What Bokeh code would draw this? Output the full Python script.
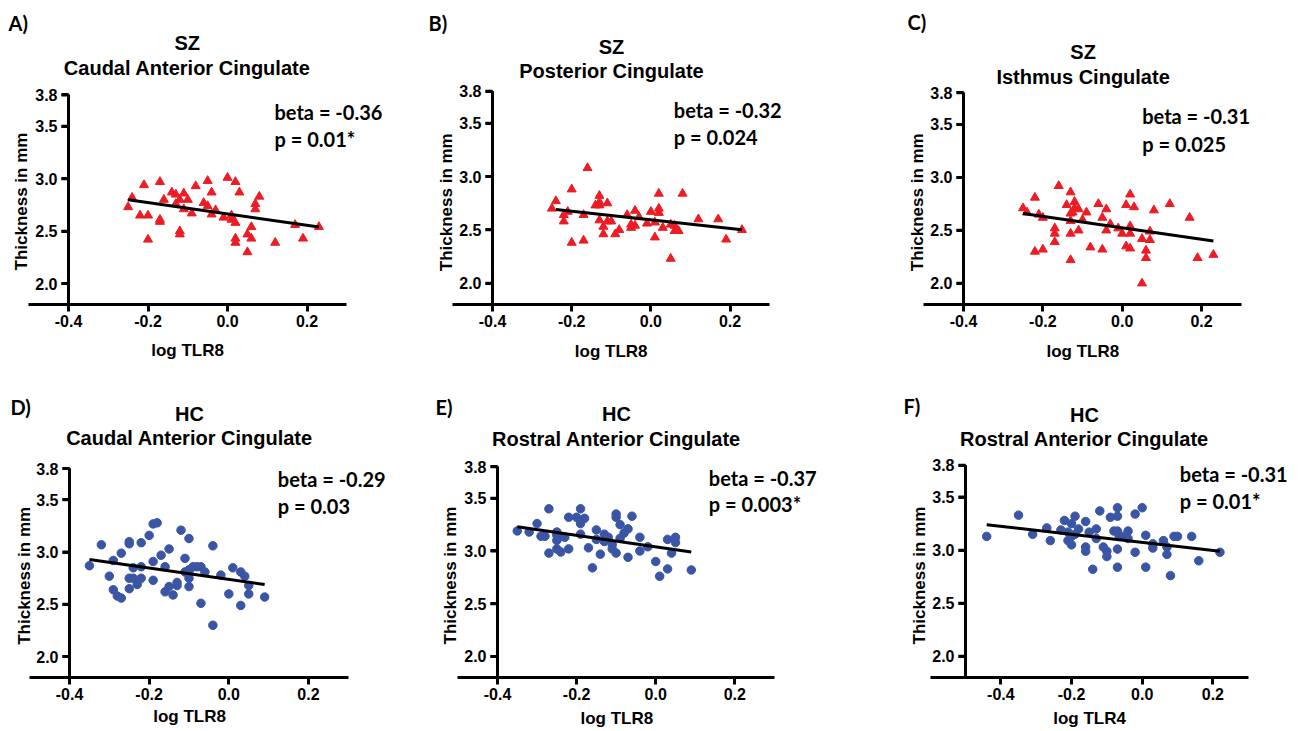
import math
from bokeh.plotting import figure
from bokeh.models import Range1d, FixedTicker, PrintfTickFormatter, Label, Title
from bokeh.layouts import row, column
from bokeh.embed import file_html
from bokeh.resources import INLINE

# ---------------- data ----------------
x_ticks = [-0.4, -0.2, 0.0, 0.2]
y_ticks = [2.0, 2.5, 3.0, 3.5, 3.8]

# A) SZ Caudal Anterior Cingulate (log TLR8)
a_x = [-0.25, -0.24, -0.21, -0.22, -0.20, -0.20, -0.17, -0.17, -0.17, -0.16,
       -0.14, -0.13, -0.13, -0.12, -0.12, -0.12, -0.11, -0.11, -0.10, -0.09,
       -0.08, -0.06, -0.05, -0.05, -0.04, -0.04, -0.03, -0.01, 0.00, 0.01,
       0.01, 0.02, 0.02, 0.02, 0.02, 0.03, 0.05, 0.05, 0.06, 0.06,
       0.07, 0.07, 0.08, 0.12, 0.17, 0.19, 0.23]
a_y = [2.73, 2.82, 2.94, 2.65, 2.65, 2.42, 2.97, 2.61, 2.59, 2.80,
       2.87, 2.85, 2.76, 2.80, 2.50, 2.47, 2.86, 2.71, 2.80, 2.67,
       2.93, 2.77, 2.98, 2.74, 2.87, 2.66, 2.70, 2.63, 3.01, 2.65,
       2.61, 2.97, 2.58, 2.43, 2.39, 2.87, 2.47, 2.30, 2.54, 2.43,
       2.71, 2.76, 2.83, 2.39, 2.56, 2.43, 2.54]
a_fit_x = [-0.25, 0.23]
a_fit_y = [2.80, 2.54]

# B) SZ Posterior Cingulate (log TLR8)
b_x = [-0.25, -0.24, -0.22, -0.22, -0.21, -0.20, -0.20, -0.17, -0.17, -0.16,
       -0.14, -0.13, -0.13, -0.13, -0.13, -0.12, -0.12, -0.11, -0.11, -0.10,
       -0.09, -0.08, -0.06, -0.05, -0.05, -0.04, -0.04, -0.03, -0.01, 0.00,
       0.01, 0.01, 0.02, 0.02, 0.02, 0.03, 0.05, 0.05, 0.06, 0.06,
       0.07, 0.08, 0.12, 0.17, 0.19, 0.23]
b_y = [2.70, 2.77, 2.64, 2.58, 2.67, 2.88, 2.38, 2.64, 2.40, 3.08,
       2.73, 2.82, 2.73, 2.76, 2.59, 2.53, 2.46, 2.75, 2.58, 2.58,
       2.46, 2.50, 2.64, 2.55, 2.52, 2.68, 2.54, 2.62, 2.56, 2.67,
       2.57, 2.43, 2.84, 2.70, 2.66, 2.52, 2.55, 2.23, 2.54, 2.49,
       2.49, 2.84, 2.60, 2.60, 2.41, 2.50]
b_fit_x = [-0.24, 0.23]
b_fit_y = [2.69, 2.50]

# C) SZ Isthmus Cingulate (log TLR8)
c_x = [-0.25, -0.24, -0.22, -0.21, -0.20, -0.22, -0.20, -0.17, -0.17, -0.17,
       -0.16, -0.14, -0.13, -0.13, -0.13, -0.13, -0.13, -0.12, -0.12, -0.11,
       -0.125, -0.11, -0.10, -0.09, -0.08, -0.06, -0.05, -0.05, -0.04, -0.04,
       -0.03, -0.01, 0.00, 0.01, 0.01, 0.02, 0.02, 0.02, 0.02, 0.03,
       0.05, 0.05, 0.06, 0.06, 0.07, 0.07, 0.08, 0.12, 0.17, 0.19,
       0.23]
c_y = [2.71, 2.67, 2.81, 2.65, 2.62, 2.30, 2.32, 2.52, 2.47, 2.39,
       2.92, 2.74, 2.86, 2.66, 2.59, 2.47, 2.22, 2.77, 2.71, 2.70,
       2.67, 2.50, 2.60, 2.67, 2.34, 2.75, 2.62, 2.32, 2.70, 2.50,
       2.56, 2.52, 2.47, 2.74, 2.35, 2.84, 2.54, 2.47, 2.33, 2.72,
       2.42, 2.00, 2.31, 2.24, 2.49, 2.41, 2.69, 2.75, 2.62, 2.24,
       2.27]
c_fit_x = [-0.25, 0.23]
c_fit_y = [2.66, 2.40]

# D) HC Caudal Anterior Cingulate (log TLR8)
d_x = [-0.35, -0.32, -0.30, -0.29, -0.29, -0.28, -0.27, -0.27, -0.25, -0.25,
       -0.25, -0.25, -0.24, -0.24, -0.23, -0.22, -0.22, -0.22, -0.20, -0.19,
       -0.18, -0.19, -0.19, -0.17, -0.16, -0.15, -0.16, -0.15, -0.14, -0.13,
       -0.13, -0.12, -0.11, -0.10, -0.10, -0.10, -0.10, -0.10, -0.11, -0.09,
       -0.08, -0.07, -0.06, -0.07, -0.04, -0.04, -0.02, 0.00, 0.01, 0.03,
       0.04, 0.03, 0.05, 0.05, 0.09]
d_y = [2.87, 3.07, 2.77, 2.92, 2.64, 2.58, 2.56, 2.99, 3.10, 3.08,
       2.75, 2.65, 2.85, 2.75, 2.69, 3.09, 2.86, 2.75, 3.16, 3.27,
       3.28, 2.91, 2.73, 2.97, 2.86, 3.03, 2.62, 2.67, 2.59, 2.71,
       2.68, 3.21, 2.94, 3.13, 2.83, 2.80, 2.75, 2.67, 2.81, 2.86,
       2.86, 2.86, 2.81, 2.51, 3.06, 2.30, 2.78, 2.60, 2.85, 2.81,
       2.77, 2.49, 2.68, 2.60, 2.57]
d_fit_x = [-0.35, 0.09]
d_fit_y = [2.93, 2.69]

# E) HC Rostral Anterior Cingulate (log TLR8)
e_x = [-0.35, -0.32, -0.30, -0.29, -0.28, -0.27, -0.27, -0.25, -0.25, -0.25,
       -0.245, -0.25, -0.24, -0.23, -0.22, -0.22, -0.20, -0.19, -0.19, -0.18,
       -0.19, -0.17, -0.16, -0.15, -0.15, -0.14, -0.13, -0.13, -0.12, -0.11,
       -0.11, -0.10, -0.10, -0.10, -0.09, -0.09, -0.08, -0.07, -0.06, -0.07,
       -0.04, -0.04, -0.02, 0.00, 0.01, 0.03, 0.03, 0.04, 0.05, 0.05,
       0.09]
e_y = [3.19, 3.18, 3.26, 3.14, 3.14, 3.40, 2.98, 3.18, 3.15, 3.10,
       3.13, 3.02, 2.99, 3.13, 3.02, 3.32, 3.32, 3.40, 3.26, 3.31,
       3.16, 3.03, 2.84, 3.20, 3.11, 2.97, 3.16, 3.09, 3.13, 3.06,
       3.02, 3.35, 3.32, 2.98, 3.25, 3.12, 3.17, 3.21, 3.33, 2.94,
       3.13, 3.00, 3.04, 2.90, 2.76, 3.11, 2.83, 2.98, 3.13, 3.08,
       2.82]
e_fit_x = [-0.35, 0.09]
e_fit_y = [3.23, 2.99]

# F) HC Rostral Anterior Cingulate (log TLR4)
f_x = [-0.44, -0.35, -0.31, -0.27, -0.26, -0.23, -0.22, -0.21, -0.21, -0.20,
       -0.20, -0.19, -0.20, -0.19, -0.18, -0.16, -0.16, -0.16, -0.15, -0.14,
       -0.13, -0.13, -0.12, -0.11, -0.10, -0.10, -0.09, -0.07, -0.07, -0.08,
       -0.07, -0.065, -0.055, -0.07, -0.07, -0.04, -0.04, -0.02, -0.02, 0.00,
       0.01, 0.01, 0.03, 0.03, 0.06, 0.07, 0.07, 0.08, 0.09, 0.10,
       0.14, 0.16, 0.22]
f_y = [3.13, 3.33, 3.15, 3.21, 3.09, 3.19, 3.28, 3.17, 3.09, 3.25,
       3.13, 3.15, 3.05, 3.32, 3.20, 3.27, 3.03, 2.99, 3.17, 2.82,
       3.20, 3.11, 3.37, 3.03, 2.99, 2.94, 3.31, 3.40, 3.32, 3.18,
       3.18, 3.13, 3.13, 3.01, 2.84, 3.18, 3.11, 3.34, 2.98, 3.40,
       3.14, 2.84, 3.06, 3.02, 3.09, 3.03, 2.96, 2.76, 3.13, 3.13,
       3.13, 2.90, 2.98]
f_fit_x = [-0.44, 0.22]
f_fit_y = [3.24, 2.99]

letters = ["A)", "B)", "C)", "D)", "E)", "F)"]
groups = ["SZ", "SZ", "SZ", "HC", "HC", "HC"]
regions = ["Caudal Anterior Cingulate", "Posterior Cingulate", "Isthmus Cingulate",
           "Caudal Anterior Cingulate", "Rostral Anterior Cingulate", "Rostral Anterior Cingulate"]
betas = ["beta = -0.36", "beta = -0.32", "beta = -0.31", "beta = -0.29", "beta = -0.37", "beta = -0.31"]
pvals = ["p = 0.01*", "p = 0.024", "p = 0.025", "p = 0.03", "p = 0.003*", "p = 0.01*"]
xlabels = ["log TLR8", "log TLR8", "log TLR8", "log TLR8", "log TLR8", "log TLR4"]
ylabel = "Thickness in mm"
x_axis_end = 0.3
y_axis_start, y_axis_end = 1.8, 3.8

# ---------------- styles / layout (pixels) ----------------
RED = "#ED1C24"
BLUE = "#3B55A5"
SANS = "Liberation Sans"
CAL = "Lato"

ROW = [(0, 380), (380, 351)]              # (top, height) of each row
COL = [(0, 418), (418, 467), (885, 418)]  # (left, width) of each column

# x0: where the y axis stands; xa: where the x axis line starts (frame left)
# L: pixel of the y axis; R/T/B: frame edges; sx/sy: px per data unit
# text offsets in px from (x0, 3.8)
spec = [
    dict(r=0, c=0, x0=-0.4, xa=-0.5, L=68, R=395, T=24, B=308, sx=397.5, sy=106.3,
         let=(-60, -20), grp=(118.7, 52.1), reg=(118.7, 27.1), beta=(206, -16.9), pv=(206, -44.3),
         ylab=(34, 30.9), xlab=(82.7, 23.5, "top")),
    dict(r=0, c=1, x0=-0.4, xa=-0.5, L=492, R=815, T=24, B=304, sx=396.0, sy=106.65,
         let=(-64, -20), grp=(119, 44.4), reg=(119, 20), beta=(181.3, -19.1), pv=(181.3, -46),
         ylab=(33.3, 455.3), xlab=(82.3, 25.4, "top")),
    dict(r=0, c=2, x0=-0.4, xa=-0.5, L=963, R=1286, T=22, B=304, sx=396.7, sy=106.65,
         let=(-56, -19), grp=(119.6, 40.4), reg=(119.6, 16), beta=(178.7, -23.5), pv=(178.7, -51.5),
         ylab=(33.3, 926.3), xlab=(83, 25.4, "top")),
    dict(r=1, c=0, x0=-0.4, xa=-0.5, L=69, R=398, T=406, B=680, sx=398.3, sy=105.65,
         let=(-59, -24), grp=(120, 54.4), reg=(120, 30.4), beta=(208.3, -10.1), pv=(208.3, -37.8),
         ylab=(32.7, 33.6), xlab=(83.7, 5, "bottom")),
    dict(r=1, c=1, x0=-0.4, xa=-0.5, L=497, R=828, T=404, B=677, sx=395.5, sy=106.2,
         let=(-62, -24), grp=(119, 52.3), reg=(119, 27.9), beta=(211.3, -10.9), pv=(211.3, -37.6),
         ylab=(33, 459.6), xlab=(83, 8, "bottom")),
    dict(r=1, c=2, x0=-0.5, xa=-0.6, L=965, R=1298, T=405, B=677, sx=353.4, sy=106.5,
         let=(-62, -23.4), grp=(119, 50.7), reg=(119, 26.7), beta=(214.3, -9.2), pv=(214.3, -35.8),
         ylab=(33, 928), xlab=(87.7, 8, "bottom")),
]

series = [(a_x, a_y, a_fit_x, a_fit_y, "triangle", RED),
          (b_x, b_y, b_fit_x, b_fit_y, "triangle", RED),
          (c_x, c_y, c_fit_x, c_fit_y, "triangle", RED),
          (d_x, d_y, d_fit_x, d_fit_y, "circle", BLUE),
          (e_x, e_y, e_fit_x, e_fit_y, "circle", BLUE),
          (f_x, f_y, f_fit_x, f_fit_y, "circle", BLUE)]

TICK_LEN = 7


def make_title(text, font, size, align, valign, offset, standoff):
    t = Title(text=text, align=align, vertical_align=valign, offset=offset,
              text_font=font, text_font_style="bold", text_font_size=size,
              text_color="black")
    try:
        t.standoff = standoff
    except Exception:
        t.standoff = max(0, standoff)
    return t


def in_frame_label(s, text, off, font, size, align):
    return Label(x=s["x0"], y=y_axis_end, x_offset=off[0], y_offset=off[1], text=text,
                 text_align=align, text_baseline="middle",
                 text_font=font, text_font_style="bold", text_font_size=size,
                 text_color="black")


def make_panel(i):
    s = spec[i]
    xs, ys, fx, fy, marker, color = series[i]
    rtop, rh = ROW[s["r"]]
    cleft, cw = COL[s["c"]]
    Lf = round(s["L"] - (s["x0"] - s["xa"]) * s["sx"])   # frame left pixel
    x_start = s["x0"] - (s["L"] - Lf) / s["sx"]
    x_end = x_start + (s["R"] - Lf) / s["sx"]
    y_top = y_axis_start + (s["B"] - s["T"]) / s["sy"]
    p = figure(width=cw, height=rh,
               x_range=Range1d(x_start, x_end), y_range=Range1d(y_axis_start, y_top),
               output_backend="svg", toolbar_location=None,
               min_border_left=Lf - cleft, min_border_right=cleft + cw - s["R"],
               min_border_top=s["T"] - rtop, min_border_bottom=rtop + rh - s["B"])
    p.outline_line_color = None
    p.grid.visible = False
    p.background_fill_color = "white"
    p.border_fill_color = "white"

    for ax in (p.xaxis[0], p.yaxis[0]):
        ax.axis_line_width = 3
        ax.axis_line_color = "black"
        ax.major_tick_line_width = 3
        ax.major_tick_line_color = "black"
        ax.major_tick_in = 0
        ax.major_tick_out = TICK_LEN
        ax.minor_tick_line_color = None
        ax.major_label_text_font = SANS
        ax.major_label_text_font_style = "bold"
        ax.major_label_text_font_size = "16px"
        ax.major_label_text_color = "black"
        ax.formatter = PrintfTickFormatter(format="%.1f")

    # x axis along the frame bottom, from the frame's left edge to 0.3
    p.xaxis[0].ticker = FixedTicker(ticks=x_ticks)
    p.xaxis[0].bounds = (x_start, x_axis_end)
    p.xaxis[0].major_label_standoff = 3

    # y axis standing at x0 (inside the frame, as in the original)
    yax = p.yaxis[0]
    yax.ticker = FixedTicker(ticks=y_ticks)
    yax.bounds = (y_axis_start, y_axis_end)
    yax.fixed_location = s["x0"]
    yax.major_label_standoff = 4
    # rule and ticks of that axis, drawn through the data scales
    p.segment(x0=[s["x0"]], y0=[y_axis_start], x1=[s["x0"]], y1=[y_axis_end],
              line_color="black", line_width=3)
    p.ray(x=[s["x0"]] * len(y_ticks), y=y_ticks, length=TICK_LEN, length_units="screen",
          angle=math.pi, line_color="black", line_width=3)

    p.scatter(xs, ys, marker=marker, size=9 if marker == "triangle" else 8.5,
              fill_color=color, line_color=color, line_width=1)
    p.line(fx, fy, line_color="black", line_width=3)

    # texts inside the (invisible) frame
    p.add_layout(in_frame_label(s, groups[i], s["grp"], SANS, "20px", "center"))
    p.add_layout(in_frame_label(s, regions[i], s["reg"], SANS, "20px", "center"))
    p.add_layout(in_frame_label(s, betas[i], s["beta"], CAL, "20px", "left"))
    p.add_layout(in_frame_label(s, pvals[i], s["pv"], CAL, "20px", "left"))

    # texts outside the frame (side panels)
    shift = s["L"] - Lf
    p.add_layout(make_title(letters[i], CAL, "20px", "left", "bottom",
                            s["let"][0] + shift, s["let"][1]), "above")
    ylab_standoff = 2 * (Lf - s["ylab"][1])
    p.add_layout(make_title(ylabel, SANS, "17px", "left", "bottom",
                            s["ylab"][0], ylab_standoff), "left")
    p.add_layout(make_title(xlabels[i], SANS, "17px", "left", s["xlab"][2],
                            s["xlab"][0] + shift, s["xlab"][1]), "below")
    return p


panels = [make_panel(i) for i in range(6)]
layout = column(row(panels[0], panels[1], panels[2], spacing=0),
                row(panels[3], panels[4], panels[5], spacing=0), spacing=0)

open("out.html", "w").write(file_html(layout, INLINE))
